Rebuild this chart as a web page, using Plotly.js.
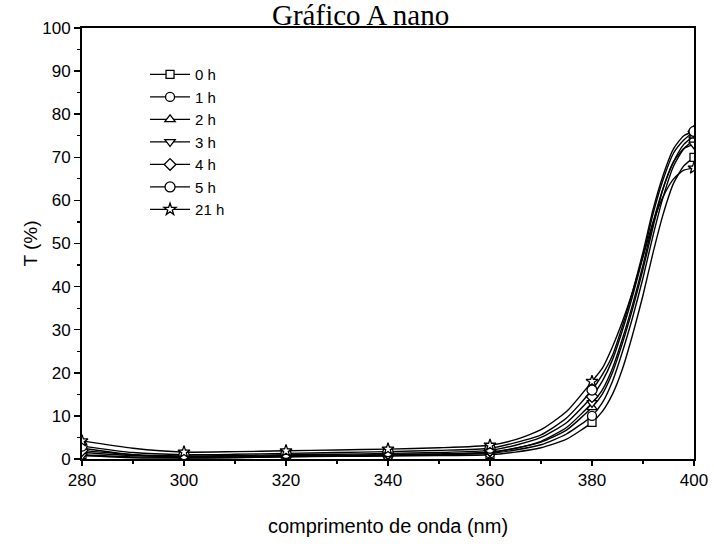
<!DOCTYPE html>
<html>
<head>
<meta charset="utf-8">
<script src="https://cdn.plot.ly/plotly-3.0.1.min.js"></script>
<style>html,body{margin:0;padding:0;background:#fff;}#chart{width:714px;height:559px;}</style>
</head>
<body>
<div id="chart"></div>
<script>
// wavelength samples (nm)
var wavelength = [280,290,300,310,320,330,340,350,360,365,370,375,380,382,384,386,388,390,392,394,396,398,400];
// wavelengths where symbols are drawn
var markerWavelengths = [280,300,320,340,360,380,400];
var seriesNames = ['0 h','1 h','2 h','3 h','4 h','5 h','21 h'];
var t0h  = [1.0,0.5,0.3,0.4,0.5,0.6,0.7,0.8,1.0,1.6,2.6,4.6,8.5,11,15,21,29,38,48,57,64,68,70];
var t1h  = [2.5,1.0,0.5,0.5,0.6,0.7,0.8,1.0,1.3,2.1,3.3,5.8,10,13,18,25,33,42,52,61,68,72,74];
var t2h  = [1.5,0.8,0.5,0.6,0.8,0.9,1.0,1.2,1.6,2.5,3.9,6.7,12,15,20,27,35,44,54,63,69,73,75];
var t3h  = [0.8,0.3,0.2,0.3,0.5,0.7,0.9,1.1,1.5,2.5,4.1,7.3,13,16,21,28,36,45,55,63,69,72,73];
var t4h  = [2.0,1.0,0.7,0.8,1.0,1.1,1.3,1.5,2.0,3.2,5.0,8.4,14.5,18,23,30,38,47,57,65,71,74,76];
var t5h  = [3.0,1.5,1.0,1.1,1.3,1.5,1.7,2.0,2.5,3.8,5.6,9.5,16,19.5,24,31,39,48,58,66,72,75,76];
var t21h = [4.2,2.5,1.6,1.7,1.9,2.1,2.3,2.6,3.2,4.5,6.8,11,18,21,26,32,39,47,55,61,65,67,67.5];
var seriesValues = [t0h,t1h,t2h,t3h,t4h,t5h,t21h];
var symbols = ['square','circle','triangle-up','triangle-down','diamond','circle','star'];
var symbolSizes = [8,9,9,9,9,10,9];

var fill = wavelength.map(function(w){return markerWavelengths.indexOf(w)>=0 ? '#ffffff' : 'rgba(0,0,0,0)';});
var edge = wavelength.map(function(w){return markerWavelengths.indexOf(w)>=0 ? '#000000' : 'rgba(0,0,0,0)';});

var traces = seriesNames.map(function(name,i){
  return {
    x: wavelength, y: seriesValues[i], name: name, type:'scatter', mode:'lines+markers',
    line:{color:'#000', width:1.4, shape:'spline', smoothing:0.6},
    marker:{symbol:symbols[i], size:symbolSizes[i], color:fill, line:{color:edge, width:1.3}},
    hoverinfo:'skip'
  };
});

var layout = {
  width:714, height:559,
  margin:{l:82, r:20, t:28, b:100},
  paper_bgcolor:'#fff', plot_bgcolor:'#fff',
  showlegend:true,
  legend:{x:0.103, y:0.93, xanchor:'left', yanchor:'top', bgcolor:'rgba(0,0,0,0)',
    font:{family:'Liberation Sans, Arial, sans-serif', size:15, color:'#000'},
    tracegroupgap:0, itemwidth:40},
  font:{family:'Liberation Sans, Arial, sans-serif', color:'#000'},
  xaxis:{range:[280,400], dtick:20, tick0:280, ticks:'outside', ticklen:5, tickwidth:1.5, tickcolor:'#000',
    showline:true, linewidth:2, linecolor:'#000', mirror:true, showgrid:false, zeroline:false,
    tickfont:{size:17, color:'#000'},
    minor:{dtick:10, ticks:'outside', ticklen:3, tickwidth:1.2, tickcolor:'#000', showgrid:false},
    title:{text:'comprimento de onda (nm)', font:{size:20, color:'#000'}, standoff:30}},
  yaxis:{range:[0,100], dtick:10, ticks:'outside', ticklen:6, tickwidth:1.5, tickcolor:'#000',
    showline:true, linewidth:2, linecolor:'#000', mirror:true, showgrid:false, zeroline:false,
    tickfont:{size:17, color:'#000'},
    minor:{dtick:5, ticks:'outside', ticklen:3, tickwidth:1.2, tickcolor:'#000', showgrid:false},
    title:{text:'T (%)', font:{size:19, color:'#000'}, standoff:0}},
  annotations:[{text:'Gráfico A nano', xref:'paper', yref:'paper', x:0.455, y:1.0, xanchor:'center', yanchor:'bottom',
    yshift:-5, showarrow:false, font:{family:'Liberation Serif, Times New Roman, serif', size:29, color:'#000'}}]
};

Plotly.newPlot('chart', traces, layout, {displayModeBar:false, staticPlot:true});
</script>
</body>
</html>
